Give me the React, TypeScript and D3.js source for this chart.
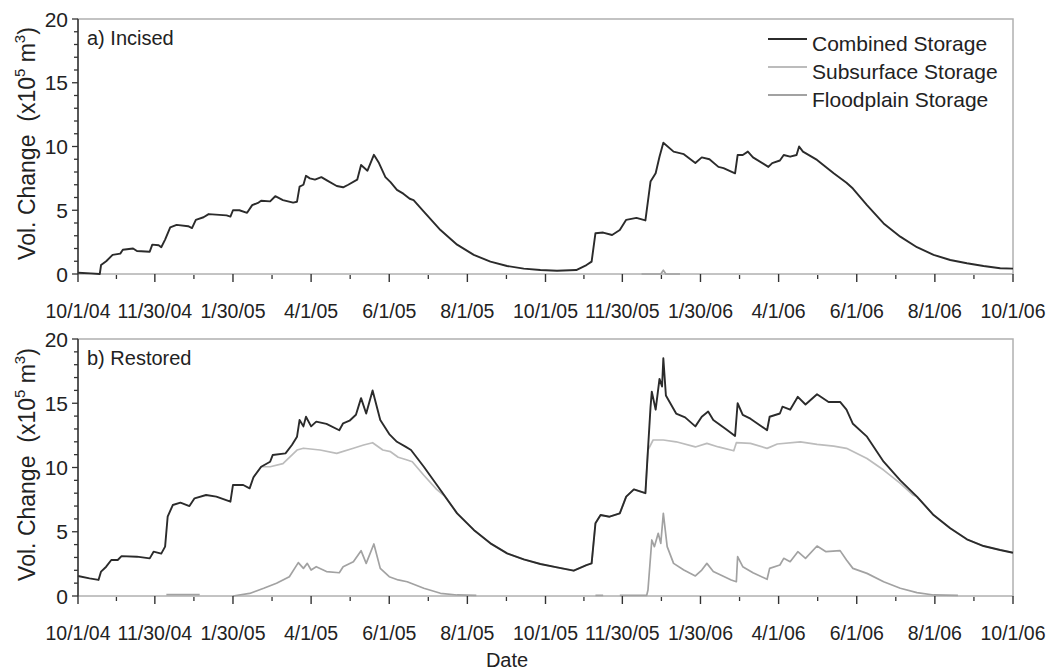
import React, { useEffect, useRef } from 'react';
import * as d3 from 'd3';

type Pt = [number, number | null];

// days since 10/1/04, volume change (x10^5 m^3)
const incisedCombined: Pt[] = [
  [0, 0.1], [10, 0.05], [17, 0], [18, 0.7], [22, 1.0], [27, 1.5], [33, 1.6], [35, 1.9], [43, 2.0], [46, 1.8],
  [56, 1.75], [58, 2.3], [63, 2.25], [65, 2.1], [68, 2.7], [72, 3.65], [77, 3.85], [86, 3.75], [89, 3.6], [92, 4.25],
  [98, 4.45], [102, 4.7], [116, 4.6], [119, 4.5], [121, 5.0], [126, 5.0], [132, 4.8], [136, 5.4], [141, 5.6], [143, 5.75],
  [150, 5.7], [154, 6.1], [160, 5.8], [168, 5.6], [171, 5.67], [173, 6.85], [176, 7.0], [178, 7.7], [181, 7.5], [185, 7.4],
  [190, 7.6], [195, 7.3], [202, 6.9], [207, 6.8], [211, 7.0], [218, 7.4], [221, 8.55], [226, 8.1], [231, 9.35], [235, 8.7],
  [240, 7.6], [244, 7.2], [249, 6.6], [254, 6.3], [259, 5.9], [262, 5.8], [270, 4.9], [283, 3.45], [296, 2.3], [309, 1.5],
  [322, 0.97], [335, 0.63], [348, 0.42], [361, 0.31], [374, 0.26], [389, 0.31], [397, 0.7], [401, 0.97], [404, 3.2], [410, 3.25],
  [417, 3.06], [423, 3.45], [428, 4.25], [436, 4.4], [443, 4.2], [447, 7.25], [451, 7.9], [454, 9.2], [457, 10.3], [465, 9.6],
  [473, 9.4], [482, 8.7], [487, 9.15], [493, 9.0], [500, 8.4], [504, 8.3], [513, 7.9], [515, 9.33], [519, 9.33], [523, 9.6],
  [527, 9.15], [539, 8.4], [542, 8.7], [548, 8.9], [551, 9.33], [556, 9.2], [561, 9.33], [563, 10.0], [566, 9.6], [577, 8.95],
  [590, 7.9], [600, 7.16], [605, 6.7], [616, 5.4], [629, 3.97], [642, 2.93], [655, 2.1], [668, 1.5], [681, 1.1], [694, 0.84],
  [707, 0.63], [720, 0.45], [730, 0.42],
];

const incisedFloodplain: Pt[] = [
  [440, 0], [455, 0], [457, 0.3], [459, 0], [470, 0],
];

const restoredCombined: Pt[] = [
  [0, 1.56], [9, 1.37], [16, 1.25], [18, 1.9], [22, 2.28], [26, 2.8], [31, 2.8], [34, 3.1], [46, 3.06], [56, 2.93],
  [59, 3.45], [65, 3.3], [68, 3.84], [70, 6.17], [74, 7.08], [80, 7.26], [87, 7.0], [91, 7.6], [100, 7.86], [108, 7.73],
  [119, 7.34], [121, 8.64], [129, 8.64], [134, 8.38], [137, 9.24], [143, 10.06], [150, 10.45], [152, 10.97], [162, 11.1], [167, 11.75],
  [171, 12.4], [173, 13.7], [176, 13.2], [178, 13.95], [182, 13.2], [186, 13.57], [194, 13.4], [204, 12.9], [207, 13.44], [212, 13.64],
  [217, 14.1], [221, 15.4], [225, 14.2], [230, 16.0], [236, 13.7], [243, 12.6], [249, 12.0], [256, 11.6], [260, 11.36], [270, 10.06],
  [283, 8.25], [296, 6.43], [309, 5.14], [322, 4.1], [335, 3.32], [348, 2.85], [361, 2.49], [374, 2.23], [387, 1.97], [397, 2.41],
  [401, 2.54], [404, 5.66], [408, 6.3], [415, 6.17], [423, 6.43], [428, 7.73], [434, 8.3], [443, 8.0], [445, 11.4], [447, 14.7],
  [448, 15.9], [451, 14.5], [454, 16.9], [456, 16.3], [457, 18.5], [459, 15.6], [461, 15.25], [467, 14.2], [474, 13.9], [482, 13.2],
  [487, 13.95], [492, 14.35], [496, 13.7], [506, 12.97], [513, 12.45], [515, 15.0], [519, 14.1], [525, 13.8], [538, 12.9], [540, 13.95],
  [548, 14.2], [550, 14.73], [556, 14.5], [562, 15.5], [568, 14.9], [577, 15.7], [586, 15.1], [595, 15.1], [600, 14.5], [605, 13.4],
  [616, 12.4], [629, 10.45], [642, 9.0], [655, 7.73], [668, 6.3], [681, 5.27], [694, 4.41], [707, 3.89], [720, 3.58], [730, 3.37],
];

const restoredSubsurface: Pt[] = [
  [137, 9.24], [143, 10.06], [150, 10.06], [160, 10.3], [171, 11.36], [176, 11.5], [189, 11.36], [202, 11.1], [215, 11.5], [223, 11.75],
  [230, 11.93], [238, 11.36], [244, 11.23], [250, 10.8], [257, 10.58], [261, 10.45], [270, 9.4], [280, 8.3], [286, 7.8], [296, 6.43],
  [309, 5.14], [322, 4.1], [335, 3.32], [348, 2.85], [361, 2.49], [374, 2.23], [387, 1.97], [397, 2.41], [401, 2.54], [404, 5.66],
  [408, 6.3], [415, 6.17], [423, 6.43], [428, 7.73], [434, 8.3], [443, 8.0], [445, 11.36], [449, 12.14], [457, 12.14], [467, 12.0],
  [482, 11.6], [491, 11.88], [500, 11.6], [512, 11.3], [514, 11.93], [525, 11.88], [538, 11.49], [546, 11.83], [564, 12.0], [577, 11.8],
  [590, 11.67], [600, 11.49], [616, 10.7], [629, 9.8], [642, 8.77], [652, 7.86], [655, 7.73], [668, 6.3], [681, 5.27], [694, 4.41],
  [707, 3.89], [720, 3.58], [730, 3.37],
];

const restoredFloodplain: Pt[] = [
  [69, 0.1], [95, 0.1], [96, null],
  [121, 0], [134, 0.2], [145, 0.6], [155, 0.99], [165, 1.5], [172, 2.6], [176, 2.15], [179, 2.54], [182, 2.02], [186, 2.28],
  [194, 1.9], [204, 1.81], [207, 2.28], [215, 2.67], [221, 3.53], [225, 2.54], [231, 4.05], [236, 2.15], [243, 1.5], [250, 1.25],
  [257, 1.11], [270, 0.6], [283, 0.21], [296, 0.08], [311, 0.05], [312, null],
  [404, 0.05], [410, 0.05], [411, null],
  [423, 0.05], [444, 0.05], [445, 0.47], [448, 4.36], [450, 3.84], [453, 4.88], [455, 4.1], [457, 6.43], [460, 3.84], [465, 2.54],
  [473, 2.02], [482, 1.56], [487, 2.02], [491, 2.54], [496, 1.9], [510, 1.25], [514, 1.11], [515, 3.06], [519, 2.28], [527, 1.81],
  [538, 1.3], [540, 2.15], [548, 2.41], [551, 2.93], [556, 2.67], [562, 3.45], [568, 2.93], [577, 3.89], [584, 3.45], [595, 3.53],
  [600, 2.8], [605, 2.15], [616, 1.76], [629, 1.11], [642, 0.6], [655, 0.26], [668, 0.08], [687, 0.05],
];

const tickLabels = [
  '10/1/04', '11/30/04', '1/30/05', '4/1/05', '6/1/05', '8/1/05', '10/1/05',
  '11/30/05', '1/30/06', '4/1/06', '6/1/06', '8/1/06', '10/1/06',
];
const yTicks = [0, 5, 10, 15, 20];
const seriesNames = ['Combined Storage', 'Subsurface Storage', 'Floodplain Storage'];
const seriesColors = ['#2b2b2b', '#bcbcbc', '#a2a2a2'];
const panelTitles = ['a) Incised', 'b) Restored'];

const FONT = "'Liberation Sans', Arial, Helvetica, sans-serif";
const TXT = '#222';

export default function App() {
  const svgRef = useRef<SVGSVGElement>(null);

  useEffect(() => {
    document.body.style.margin = '0';
    const svg = d3.select(svgRef.current);
    svg.selectAll('*').remove();

    const parse = d3.timeParse('%m/%d/%y');
    const majors = tickLabels.map(l => parse(l) as Date);
    const start = majors[0];
    const minors = majors.slice(1).map((d, i) => new Date((d.getTime() + majors[i].getTime()) / 2));
    const toDate = (day: number) => d3.timeDay.offset(start, day);

    const left = 78;
    const right = 1013;
    const x = d3.scaleTime().domain([start, majors[majors.length - 1]]).range([left, right]);

    const panels = [
      { top: 19, bottom: 274, series: [incisedFloodplain, null, incisedCombined] },
      { top: 339, bottom: 596, series: [restoredFloodplain, restoredSubsurface, restoredCombined] },
    ];

    panels.forEach((p, pi) => {
      const y = d3.scaleLinear().domain([0, 20]).range([p.bottom, p.top]);
      const g = svg.append('g');

      // frame (gray), left axis dark
      g.append('rect')
        .attr('x', left).attr('y', p.top)
        .attr('width', right - left).attr('height', p.bottom - p.top)
        .attr('fill', 'none').attr('stroke', '#b0b0b0').attr('stroke-width', 1.5);

      const line = d3.line<Pt>()
        .defined(d => d[1] != null)
        .x(d => x(toDate(d[0])))
        .y(d => y(d[1] as number));

      // floodplain, subsurface, combined (drawn last)
      const colorIdx = [2, 1, 0];
      p.series.forEach((s, si) => {
        if (!s) return;
        g.append('path')
          .datum(s)
          .attr('fill', 'none')
          .attr('stroke', seriesColors[colorIdx[si]])
          .attr('stroke-width', colorIdx[si] === 0 ? 1.9 : 1.7)
          .attr('stroke-linejoin', 'round')
          .attr('d', line);
      });

      g.append('line')
        .attr('x1', left).attr('x2', left)
        .attr('y1', p.top).attr('y2', p.bottom)
        .attr('stroke', '#333').attr('stroke-width', 1.5);

      // y ticks
      d3.range(0, 21).forEach(v => {
        const major = v % 5 === 0;
        g.append('line')
          .attr('x1', left - (major ? 6 : 4)).attr('x2', left)
          .attr('y1', y(v)).attr('y2', y(v))
          .attr('stroke', '#333').attr('stroke-width', 1.3);
      });
      yTicks.forEach(v => {
        g.append('text')
          .attr('x', left - 10).attr('y', y(v) + 7.5)
          .attr('text-anchor', 'end')
          .attr('font-family', FONT).attr('font-size', 21).attr('fill', TXT)
          .text(v);
      });

      // x ticks
      majors.forEach(d => {
        g.append('line')
          .attr('x1', x(d)).attr('x2', x(d))
          .attr('y1', p.bottom).attr('y2', p.bottom + 8)
          .attr('stroke', '#333').attr('stroke-width', 1.4);
      });
      minors.forEach(d => {
        g.append('line')
          .attr('x1', x(d)).attr('x2', x(d))
          .attr('y1', p.bottom + 1).attr('y2', p.bottom + 5)
          .attr('stroke', '#333').attr('stroke-width', 1.3);
      });
      tickLabels.forEach((l, i) => {
        g.append('text')
          .attr('x', x(majors[i])).attr('y', p.bottom + 44)
          .attr('text-anchor', 'middle')
          .attr('font-family', FONT).attr('font-size', 19.5).attr('fill', TXT)
          .text(l);
      });

      // panel title
      g.append('text')
        .attr('x', 87).attr('y', p.top + 26)
        .attr('font-family', FONT).attr('font-size', 20).attr('fill', TXT)
        .text(panelTitles[pi]);

      // y axis title
      const cy = (p.top + p.bottom) / 2 - 3;
      const t = g.append('text')
        .attr('transform', `translate(35,${cy}) rotate(-90)`)
        .attr('text-anchor', 'middle')
        .attr('font-family', FONT).attr('font-size', 23).attr('fill', TXT)
        .style('white-space', 'pre');
      t.append('tspan').text('Vol. Change  (x10');
      t.append('tspan').attr('font-size', 15).attr('dy', -10).text('5');
      t.append('tspan').attr('dy', 10).text(' m');
      t.append('tspan').attr('font-size', 15).attr('dy', -10).text('3');
      t.append('tspan').attr('dy', 10).text(')');
    });

    // legend
    const lg = svg.append('g');
    seriesNames.forEach((name, i) => {
      const by = 51 + i * 28;
      lg.append('line')
        .attr('x1', 768).attr('x2', 807)
        .attr('y1', by - 12).attr('y2', by - 12)
        .attr('stroke', seriesColors[i]).attr('stroke-width', 1.8);
      lg.append('text')
        .attr('x', 812).attr('y', by)
        .attr('font-family', FONT).attr('font-size', 21).attr('fill', TXT)
        .text(name);
    });

    svg.append('text')
      .attr('x', 507).attr('y', 667)
      .attr('text-anchor', 'middle')
      .attr('font-family', FONT).attr('font-size', 20).attr('fill', TXT)
      .text('Date');
  }, []);

  return (
    <div style={{ width: 1054, height: 672, background: '#fff' }}>
      <svg ref={svgRef} width={1054} height={672} style={{ display: 'block' }} />
    </div>
  );
}
